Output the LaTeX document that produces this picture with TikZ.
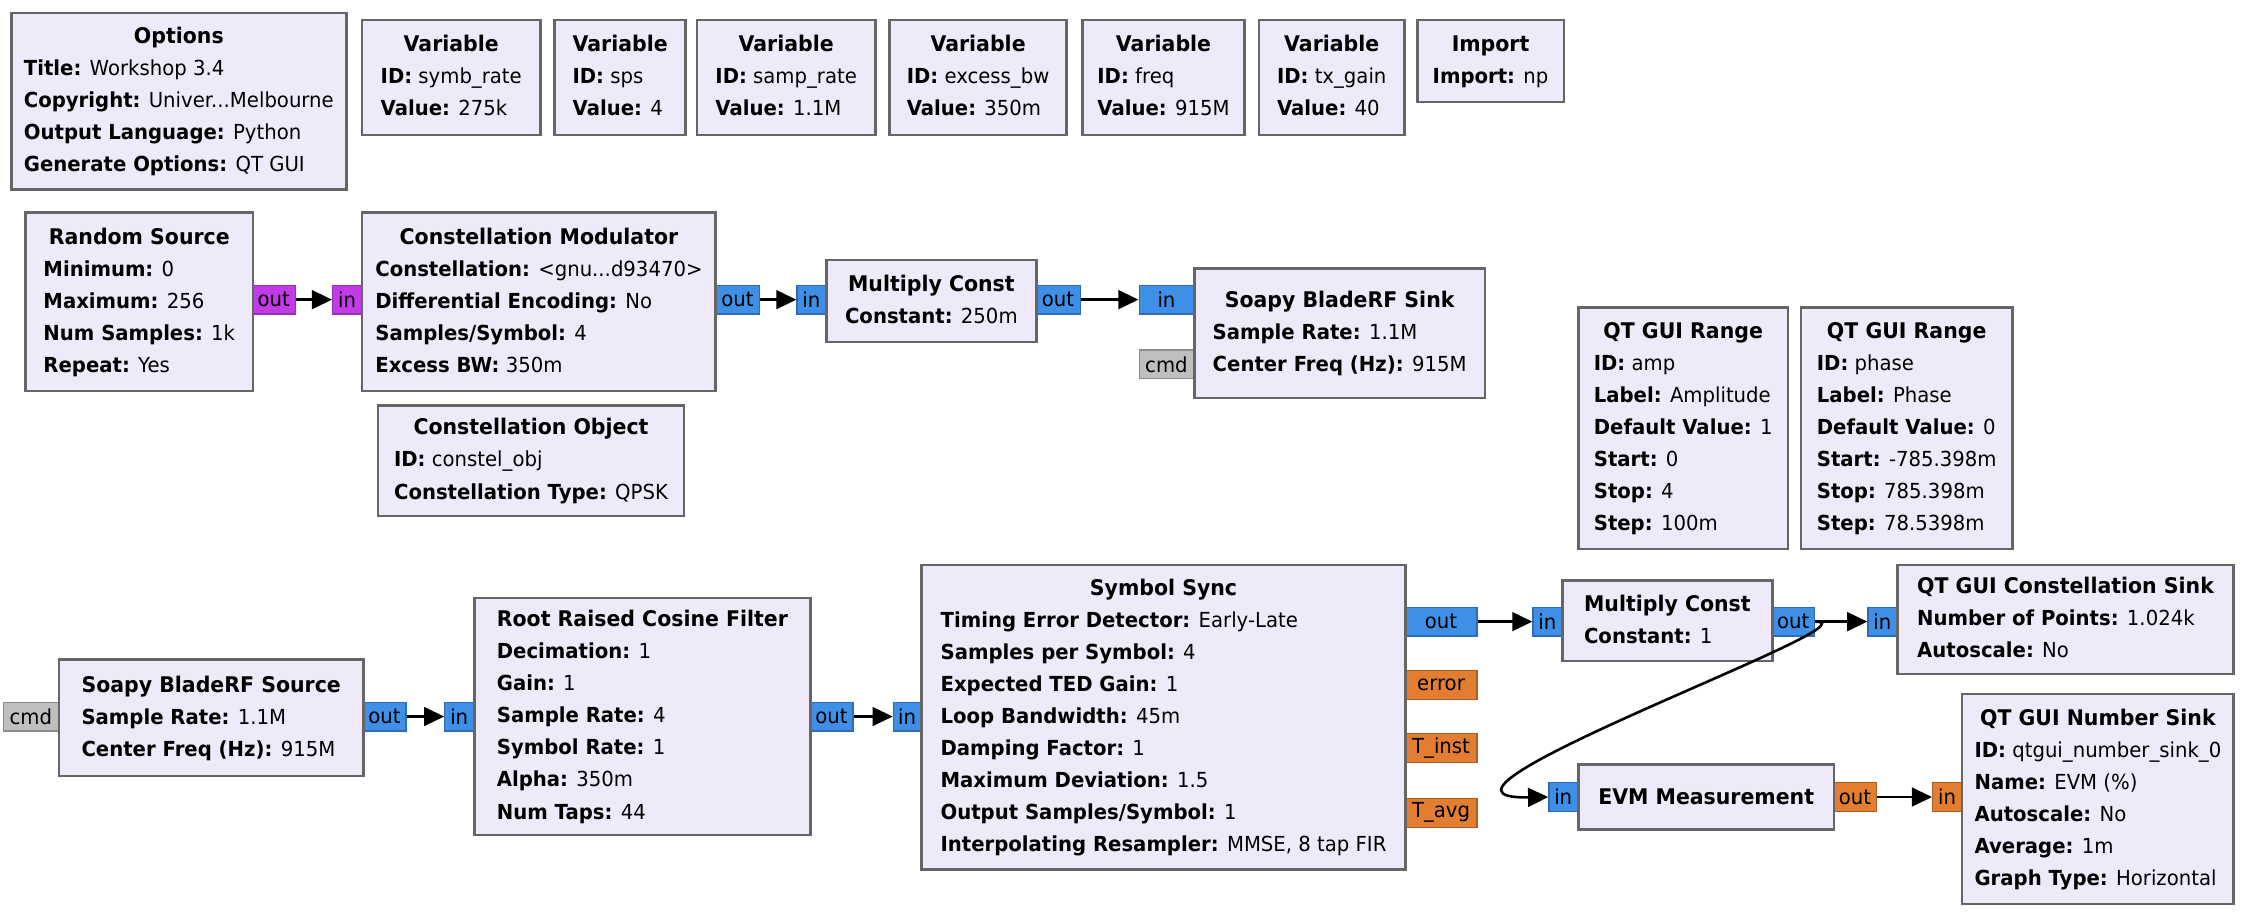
\documentclass[tikz,border=0pt]{standalone}
\usepackage{fontspec}
\setmainfont{DejaVu Sans}[FakeStretch=0.95]
\usetikzlibrary{arrows.meta}
\definecolor{BlockFill}{HTML}{EEEAFA}
\definecolor{BlockLine}{HTML}{666666}
\definecolor{Cplx}{HTML}{3F8FE6}
\definecolor{CplxLine}{HTML}{2C6CB8}
\definecolor{Byte}{HTML}{C13CE6}
\definecolor{ByteLine}{HTML}{9530B5}
\definecolor{Flt}{HTML}{E27D31}
\definecolor{FltLine}{HTML}{B05E20}
\definecolor{Msg}{HTML}{BFBFBF}
\definecolor{MsgLine}{HTML}{8C8C8C}
\newcommand{\prm}{\fontsize{14.4}{22.3}\selectfont}
\newcommand{\ttl}{\fontsize{15}{22.3}\selectfont\bfseries}
\newcommand{\kv}[2]{\textbf{#1:} #2}
\newcommand{\blocktext}[2]{\begin{tabular}{@{}l@{}}\multicolumn{1}{@{}c@{}}{\ttl #1}\\#2\end{tabular}}
\tikzset{
  block/.style={
    draw=BlockLine,line width=1.8pt,fill=BlockFill,
    anchor=north west,inner sep=0pt,font=\prm
  },
  dims/.style 2 args={minimum width=#1pt,minimum height=#2pt},
  port/.style={line width=0.9pt,anchor=north west,inner sep=0pt,minimum height=20pt,font=\prm},
  cplx/.style={port,draw=CplxLine,fill=Cplx},
  byte/.style={port,draw=ByteLine,fill=Byte},
  flt/.style={port,draw=FltLine,fill=Flt},
  msg/.style={port,draw=MsgLine,fill=Msg},
  wire/.style={-{Triangle[length=14pt,width=13pt]},line width=1.8pt,draw=black}
}
\begin{document}
\begin{tikzpicture}[x=1pt,y=-1pt]
  \useasboundingbox (0,0) rectangle (1568,640);

  \node[block,dims={233}{123}] (opt) at (7,8) {\blocktext{Options}{\kv{Title}{Workshop 3.4}\\\kv{Copyright}{Univer...Melbourne}\\\kv{Output Language}{Python}\\\kv{Generate Options}{QT GUI}}};
  \node[block,dims={124}{80}] (vsymb) at (251,13) {\blocktext{Variable}{\kv{ID}{symb\_rate}\\\kv{Value}{275k}}};
  \node[block,dims={91}{80}] (vsps) at (385,13) {\blocktext{Variable}{\kv{ID}{sps}\\\kv{Value}{4}}};
  \node[block,dims={124}{80}] (vsamp) at (484,13) {\blocktext{Variable}{\kv{ID}{samp\_rate}\\\kv{Value}{1.1M}}};
  \node[block,dims={123}{80}] (vexbw) at (618,13) {\blocktext{Variable}{\kv{ID}{excess\_bw}\\\kv{Value}{350m}}};
  \node[block,dims={113}{80}] (vfreq) at (752,13) {\blocktext{Variable}{\kv{ID}{freq}\\\kv{Value}{915M}}};
  \node[block,dims={101}{80}] (vgain) at (875,13) {\blocktext{Variable}{\kv{ID}{tx\_gain}\\\kv{Value}{40}}};
  \node[block,dims={102}{57}] (imp) at (985,13) {\blocktext{Import}{\kv{Import}{np}}};

  \node[byte,minimum width=30pt] (rsout) at (175,198) {out};
  \node[byte,minimum width=20pt] (cmin) at (231,198) {in};
  \node[cplx,minimum width=31pt] (cmout) at (497,198) {out};
  \node[cplx,minimum width=20pt] (mcain) at (554,198) {in};
  \node[cplx,minimum width=31pt] (mcaout) at (720,198) {out};
  \node[cplx,minimum width=38pt] (skin) at (792,198) {in};
  \node[msg,minimum width=38pt] (skcmd) at (792,243) {cmd};

  \node[block,dims={158}{124}] (rsrc) at (17,147) {\blocktext{Random Source}{\kv{Minimum}{0}\\\kv{Maximum}{256}\\\kv{Num Samples}{1k}\\\kv{Repeat}{Yes}}};
  \node[block,dims={246}{124}] (cmod) at (251,147) {\blocktext{Constellation Modulator}{\kv{Constellation}{<gnu...d93470>}\\\kv{Differential Encoding}{No}\\\kv{Samples/Symbol}{4}\\\kv{Excess BW}{350m}}};
  \node[block,dims={146}{57}] (mca) at (574,180) {\blocktext{Multiply Const}{\kv{Constant}{250m}}};
  \node[block,dims={202}{90}] (sink) at (830,186) {\blocktext{Soapy BladeRF Sink}{\kv{Sample Rate}{1.1M}\\\kv{Center Freq (Hz)}{915M}}};
  \node[block,dims={213}{77}] (cobj) at (262,281) {\blocktext{Constellation Object}{\kv{ID}{constel\_obj}\\\kv{Constellation Type}{QPSK}}};
  \node[block,dims={146}{168}] (rngamp) at (1097,213) {\blocktext{QT GUI Range}{\kv{ID}{amp}\\\kv{Label}{Amplitude}\\\kv{Default Value}{1}\\\kv{Start}{0}\\\kv{Stop}{4}\\\kv{Step}{100m}}};
  \node[block,dims={147}{168}] (rngph) at (1252,213) {\blocktext{QT GUI Range}{\kv{ID}{phase}\\\kv{Label}{Phase}\\\kv{Default Value}{0}\\\kv{Start}{-785.398m}\\\kv{Stop}{785.398m}\\\kv{Step}{78.5398m}}};

  \draw[wire] (rsout) -- (cmin);
  \draw[wire] (cmout) -- (mcain);
  \draw[wire] (mcaout) -- (skin);

  \node[msg,minimum width=38pt] (srccmd) at (2,488) {cmd};
  \node[cplx,minimum width=30pt] (srcout) at (252,488) {out};
  \node[cplx,minimum width=20pt] (rrcin) at (309,488) {in};
  \node[cplx,minimum width=30pt] (rrcout) at (563,488) {out};
  \node[cplx,minimum width=19pt] (syin) at (621,488) {in};
  \node[cplx,minimum width=50pt] (syout) at (977,422) {out};
  \node[flt,minimum width=50pt] (syerr) at (977,466) {error};
  \node[flt,minimum width=50pt] (syinst) at (977,510) {T\_inst};
  \node[flt,minimum width=50pt] (syavg) at (977,555) {T\_avg};
  \node[cplx,minimum width=20pt] (mcbin) at (1066,422) {in};
  \node[cplx,minimum width=30pt] (mcbout) at (1232,422) {out};
  \node[cplx,minimum width=20pt] (csin) at (1299,422) {in};
  \node[cplx,minimum width=20pt] (evmin) at (1077,544) {in};
  \node[flt,minimum width=30pt] (evmout) at (1275,544) {out};
  \node[flt,minimum width=20pt] (nsin) at (1344,544) {in};

  \node[block,dims={212}{81}] (source) at (40,458) {\blocktext{Soapy BladeRF Source}{\kv{Sample Rate}{1.1M}\\\kv{Center Freq (Hz)}{915M}}};
  \node[block,dims={234}{165}] (rrc) at (329,415) {\blocktext{Root Raised Cosine Filter}{\kv{Decimation}{1}\\\kv{Gain}{1}\\\kv{Sample Rate}{4}\\\kv{Symbol Rate}{1}\\\kv{Alpha}{350m}\\\kv{Num Taps}{44}}};
  \node[block,dims={337}{212}] (sync) at (640,392) {\blocktext{Symbol Sync}{\kv{Timing Error Detector}{Early-Late}\\\kv{Samples per Symbol}{4}\\\kv{Expected TED Gain}{1}\\\kv{Loop Bandwidth}{45m}\\\kv{Damping Factor}{1}\\\kv{Maximum Deviation}{1.5}\\\kv{Output Samples/Symbol}{1}\\\kv{Interpolating Resampler}{MMSE, 8 tap FIR}}};
  \node[block,dims={146}{56}] (mcb) at (1086,403) {\blocktext{Multiply Const}{\kv{Constant}{1}}};
  \node[block,dims={234}{76}] (csink) at (1319,392) {\blocktext{QT GUI Constellation Sink}{\kv{Number of Points}{1.024k}\\\kv{Autoscale}{No}}};
  \node[block,dims={178}{45}] (evm) at (1097,531) {\ttl EVM Measurement};
  \node[block,dims={189}{146}] (nsink) at (1364,482) {\blocktext{QT GUI Number Sink}{\kv{ID}{qtgui\_number\_sink\_0}\\\kv{Name}{EVM (\%)}\\\kv{Autoscale}{No}\\\kv{Average}{1m}\\\kv{Graph Type}{Horizontal}}};

  \draw[wire] (srcout) -- (rrcin);
  \draw[wire] (rrcout) -- (syin);
  \draw[wire] (syout) -- (mcbin);
  \draw[wire] (mcbout) -- (csin);
  \draw[wire] (mcbout.east) .. controls +(48,0) and +(-117,2) .. (evmin.west);
  \draw[wire] (evmout) -- (nsin);
\end{tikzpicture}
\end{document}
